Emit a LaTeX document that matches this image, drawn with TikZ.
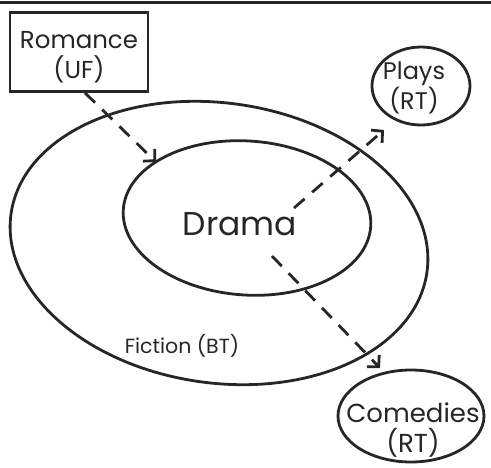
\documentclass[tikz,border=0pt]{standalone}
\usepackage{fontspec}
\setmainfont{Poppins}
\usetikzlibrary{shapes.geometric,arrows.meta,calc}
\begin{document}
\begin{tikzpicture}[x=1pt,y=-1pt,
  ink/.style={draw=black!85, line width=2.8pt},
  term/.style={ink, ellipse, inner sep=0pt},
  rel/.style={draw=black!85, line width=2.8pt, dash pattern=on 14pt off 10pt,
    -{Straight Barb[length=8pt,width=17pt,line width=2.8pt]}},
  lbl/.style={text=black!85, align=center, inner sep=0pt}]
  \useasboundingbox (0,0) rectangle (491,467);
  % rule across the top
  \draw[draw=black!85, line width=3pt] (0,2) -- (491,2);
  % broader term and the term itself
  \node[term, minimum width=420pt, minimum height=280pt, rotate=-8] (fiction) at (219,243) {};
  \node[term, minimum width=248pt, minimum height=154pt, rotate=-4] (drama) at (247,218) {};
  \node[lbl, font=\fontsize{33}{36}\selectfont] (dramatxt) at (240,224) {Drama};
  \node[lbl, font=\fontsize{20.5}{22}\selectfont] (fictiontxt) at (182,346) {Fiction (BT)};
  % used-for and related terms
  \node[ink, rectangle, minimum width=138pt, minimum height=79pt, inner sep=0pt] (romance) at (79,52) {};
  \node[lbl, font=\fontsize{24.5}{30}\selectfont] (romancetxt) at (79,57) {Romance\\(UF)};
  \node[term, minimum width=98pt, minimum height=78pt] (plays) at (421,86) {};
  \node[lbl, font=\fontsize{24}{30}\selectfont] (playstxt) at (414,88) {Plays\\(RT)};
  \node[term, minimum width=146pt, minimum height=92pt] (comedies) at (411,416) {};
  \node[lbl, font=\fontsize{26}{30}\selectfont] (comediestxt) at (413,430) {Comedies\\(RT)};
  % connectors
  \coordinate (romfoot) at ($(romance.south)+(6,0)$);
  \coordinate (dramaNW) at (156,162);
  \coordinate (dramaNE) at (294,208);
  \coordinate (dramaSE) at (272,256);
  \coordinate (playsend) at (384,130);
  \coordinate (comediesend) at (380,368);
  \draw[rel] (romfoot) -- (dramaNW);
  \draw[rel] (dramaNE) -- (playsend);
  \draw[rel] (dramaSE) -- (comediesend);
\end{tikzpicture}
\end{document}
